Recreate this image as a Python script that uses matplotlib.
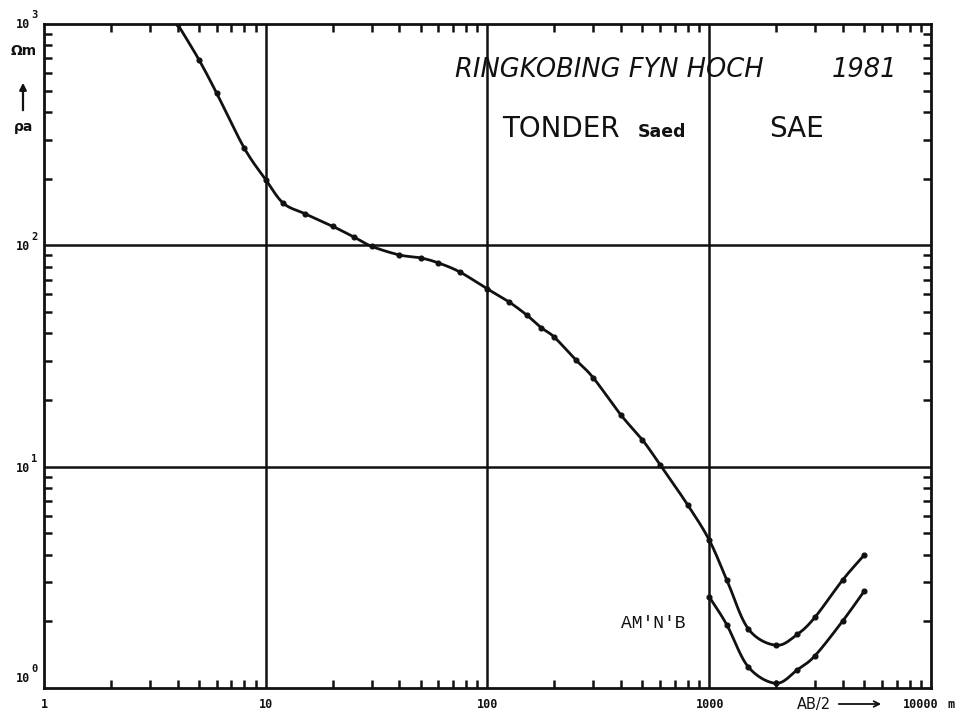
import numpy as np
import matplotlib
matplotlib.use("Agg")
import matplotlib.pyplot as plt
from matplotlib.ticker import LogLocator, NullFormatter

# sounding data: AB/2 spacing (m) and apparent resistivity (ohm m)
ab2 = [4, 5, 6, 8, 10, 12, 15, 20, 25, 30, 40, 50, 60, 75, 100, 125, 150, 175,
       200, 250, 300, 400, 500, 600, 800, 1000, 1200, 1500, 2000, 2500, 3000,
       4000, 5000]
rho_a = [1000, 689, 488, 275, 198, 155, 139, 122, 109, 99, 90.5, 87.7, 83.3,
         75.8, 63.5, 55.5, 48.5, 42.4, 38.5, 30.4, 25.2, 17.1, 13.2, 10.2, 6.71,
         4.66, 3.08, 1.85, 1.56, 1.75, 2.09, 3.08, 3.99]

# second branch measured with shifted potential electrodes (AM'N'B)
ab2_mn = [1000, 1200, 1500, 2000, 2500, 3000, 4000, 5000]
rho_mn = [2.58, 1.93, 1.245, 1.05, 1.21, 1.40, 2.01, 2.74]

x_ticks = [1, 10, 100, 1000, 10000]
x_labels = ["1", "10", "100", "1000", "10000"]
y_exps = [0, 1, 2, 3]

W, H = 970, 716
INK = "#111111"


def fp(x, y):
    # pixel position -> figure fraction
    return x / W, 1 - y / H


def smooth(x, y, n=24):
    # catmull-rom through the points, in log-log space
    lx = np.log10(x)
    ly = np.log10(y)
    px = np.concatenate([[2 * lx[0] - lx[1]], lx, [2 * lx[-1] - lx[-2]]])
    py = np.concatenate([[2 * ly[0] - ly[1]], ly, [2 * ly[-1] - ly[-2]]])
    t = np.linspace(0, 1, n, endpoint=False)
    xs, ys = [], []
    for i in range(1, len(px) - 2):
        for p, out in ((px, xs), (py, ys)):
            p0, p1, p2, p3 = p[i - 1], p[i], p[i + 1], p[i + 2]
            out.extend(0.5 * (2 * p1 + (-p0 + p2) * t
                              + (2 * p0 - 5 * p1 + 4 * p2 - p3) * t ** 2
                              + (-p0 + 3 * p1 - 3 * p2 + p3) * t ** 3))
    xs.append(lx[-1])
    ys.append(ly[-1])
    return 10 ** np.array(xs), 10 ** np.array(ys)


fig = plt.figure(figsize=(W / 100, H / 100), dpi=100)
ax = fig.add_axes([44 / W, 1 - 688 / H, (931 - 44) / W, (688 - 24) / H])
ax.set_xscale("log")
ax.set_yscale("log")
ax.set_xlim(1, 10000)
ax.set_ylim(1, 1000)

for s in ax.spines.values():
    s.set_linewidth(2.0)
    s.set_color(INK)

for v in x_ticks[1:-1]:
    ax.axvline(v, color=INK, lw=1.8, zorder=1)
for e in y_exps[1:-1]:
    ax.axhline(10 ** e, color=INK, lw=1.8, zorder=1)

ax.xaxis.set_minor_locator(LogLocator(base=10, subs=np.arange(2, 10), numticks=20))
ax.yaxis.set_minor_locator(LogLocator(base=10, subs=np.arange(2, 10), numticks=20))
ax.xaxis.set_minor_formatter(NullFormatter())
ax.yaxis.set_minor_formatter(NullFormatter())
ax.set_xticks(x_ticks)
ax.set_xticklabels([])
ax.set_yticks([10 ** e for e in y_exps])
ax.set_yticklabels([])
ax.tick_params(which="both", direction="in", top=True, right=True,
               color=INK, width=1.8)
ax.tick_params(which="major", length=0)
ax.tick_params(which="minor", length=6)

sx, sy = smooth(ab2, rho_a)
ax.plot(sx, sy, color=INK, lw=2.0, zorder=3, solid_capstyle="round")
ax.plot(ab2, rho_a, "o", color=INK, ms=3.4, zorder=4)
sx, sy = smooth(ab2_mn, rho_mn)
ax.plot(sx, sy, color=INK, lw=2.0, zorder=3, solid_capstyle="round")
ax.plot(ab2_mn, rho_mn, "o", color=INK, ms=3.4, zorder=4)

# axis labels in plotter style
lab = dict(family="DejaVu Sans Mono", weight="bold", color=INK)
x_pos = [44, 266, 488, 710, 921]
for xp, t in zip(x_pos, x_labels):
    fig.text(*fp(xp, 704), t, ha="center", va="center", fontsize=8.5, **lab)
fig.text(*fp(951, 704), "m", ha="center", va="center", fontsize=8.5, **lab)
fig.text(*fp(797, 704), "AB/2", ha="left", va="center", fontsize=10.5,
         family="DejaVu Sans", color=INK)
ax.annotate("", xy=fp(884, 704), xytext=fp(836, 704), xycoords="figure fraction",
            arrowprops=dict(arrowstyle="->", color=INK, lw=1.3,
                            mutation_scale=10))

y_pos = {3: 25, 2: 247, 1: 469, 0: 679}
for e in y_exps:
    yp = y_pos[e]
    fig.text(*fp(30, yp), "10", ha="right", va="center", fontsize=8.5, **lab)
    fig.text(*fp(31, yp - 10), str(e), ha="left", va="center", fontsize=7.5, **lab)

fig.text(*fp(24, 51), "Ωm", ha="center", va="center", fontsize=10,
         weight="bold", color=INK)
ax.annotate("", xy=fp(23, 80), xytext=fp(23, 113), xycoords="figure fraction",
            arrowprops=dict(arrowstyle="-|>", color=INK, lw=1.6,
                            mutation_scale=10))
fig.text(*fp(24, 127), "ρa", ha="center", va="center", fontsize=10,
         weight="bold", color=INK)

# station header
fig.text(*fp(455, 77), "RINGKOBING FYN HOCH", ha="left", va="baseline",
         fontsize=18.5, style="italic", color=INK)
fig.text(*fp(897, 77), "1981", ha="right", va="baseline",
         fontsize=18.5, style="italic", color=INK)
fig.text(*fp(502, 137), "TONDER", ha="left", va="baseline", fontsize=20,
         color=INK)
fig.text(*fp(638, 137), "Saed", ha="left", va="baseline", fontsize=12.5,
         weight="bold", color=INK)
fig.text(*fp(797, 137), "SAE", ha="center", va="baseline", fontsize=20,
         color=INK)
fig.text(*fp(653, 628), "AM'N'B", ha="center", va="baseline", fontsize=13,
         family="Liberation Mono", color=INK)

fig.savefig("out.png", dpi=100, facecolor="white")
